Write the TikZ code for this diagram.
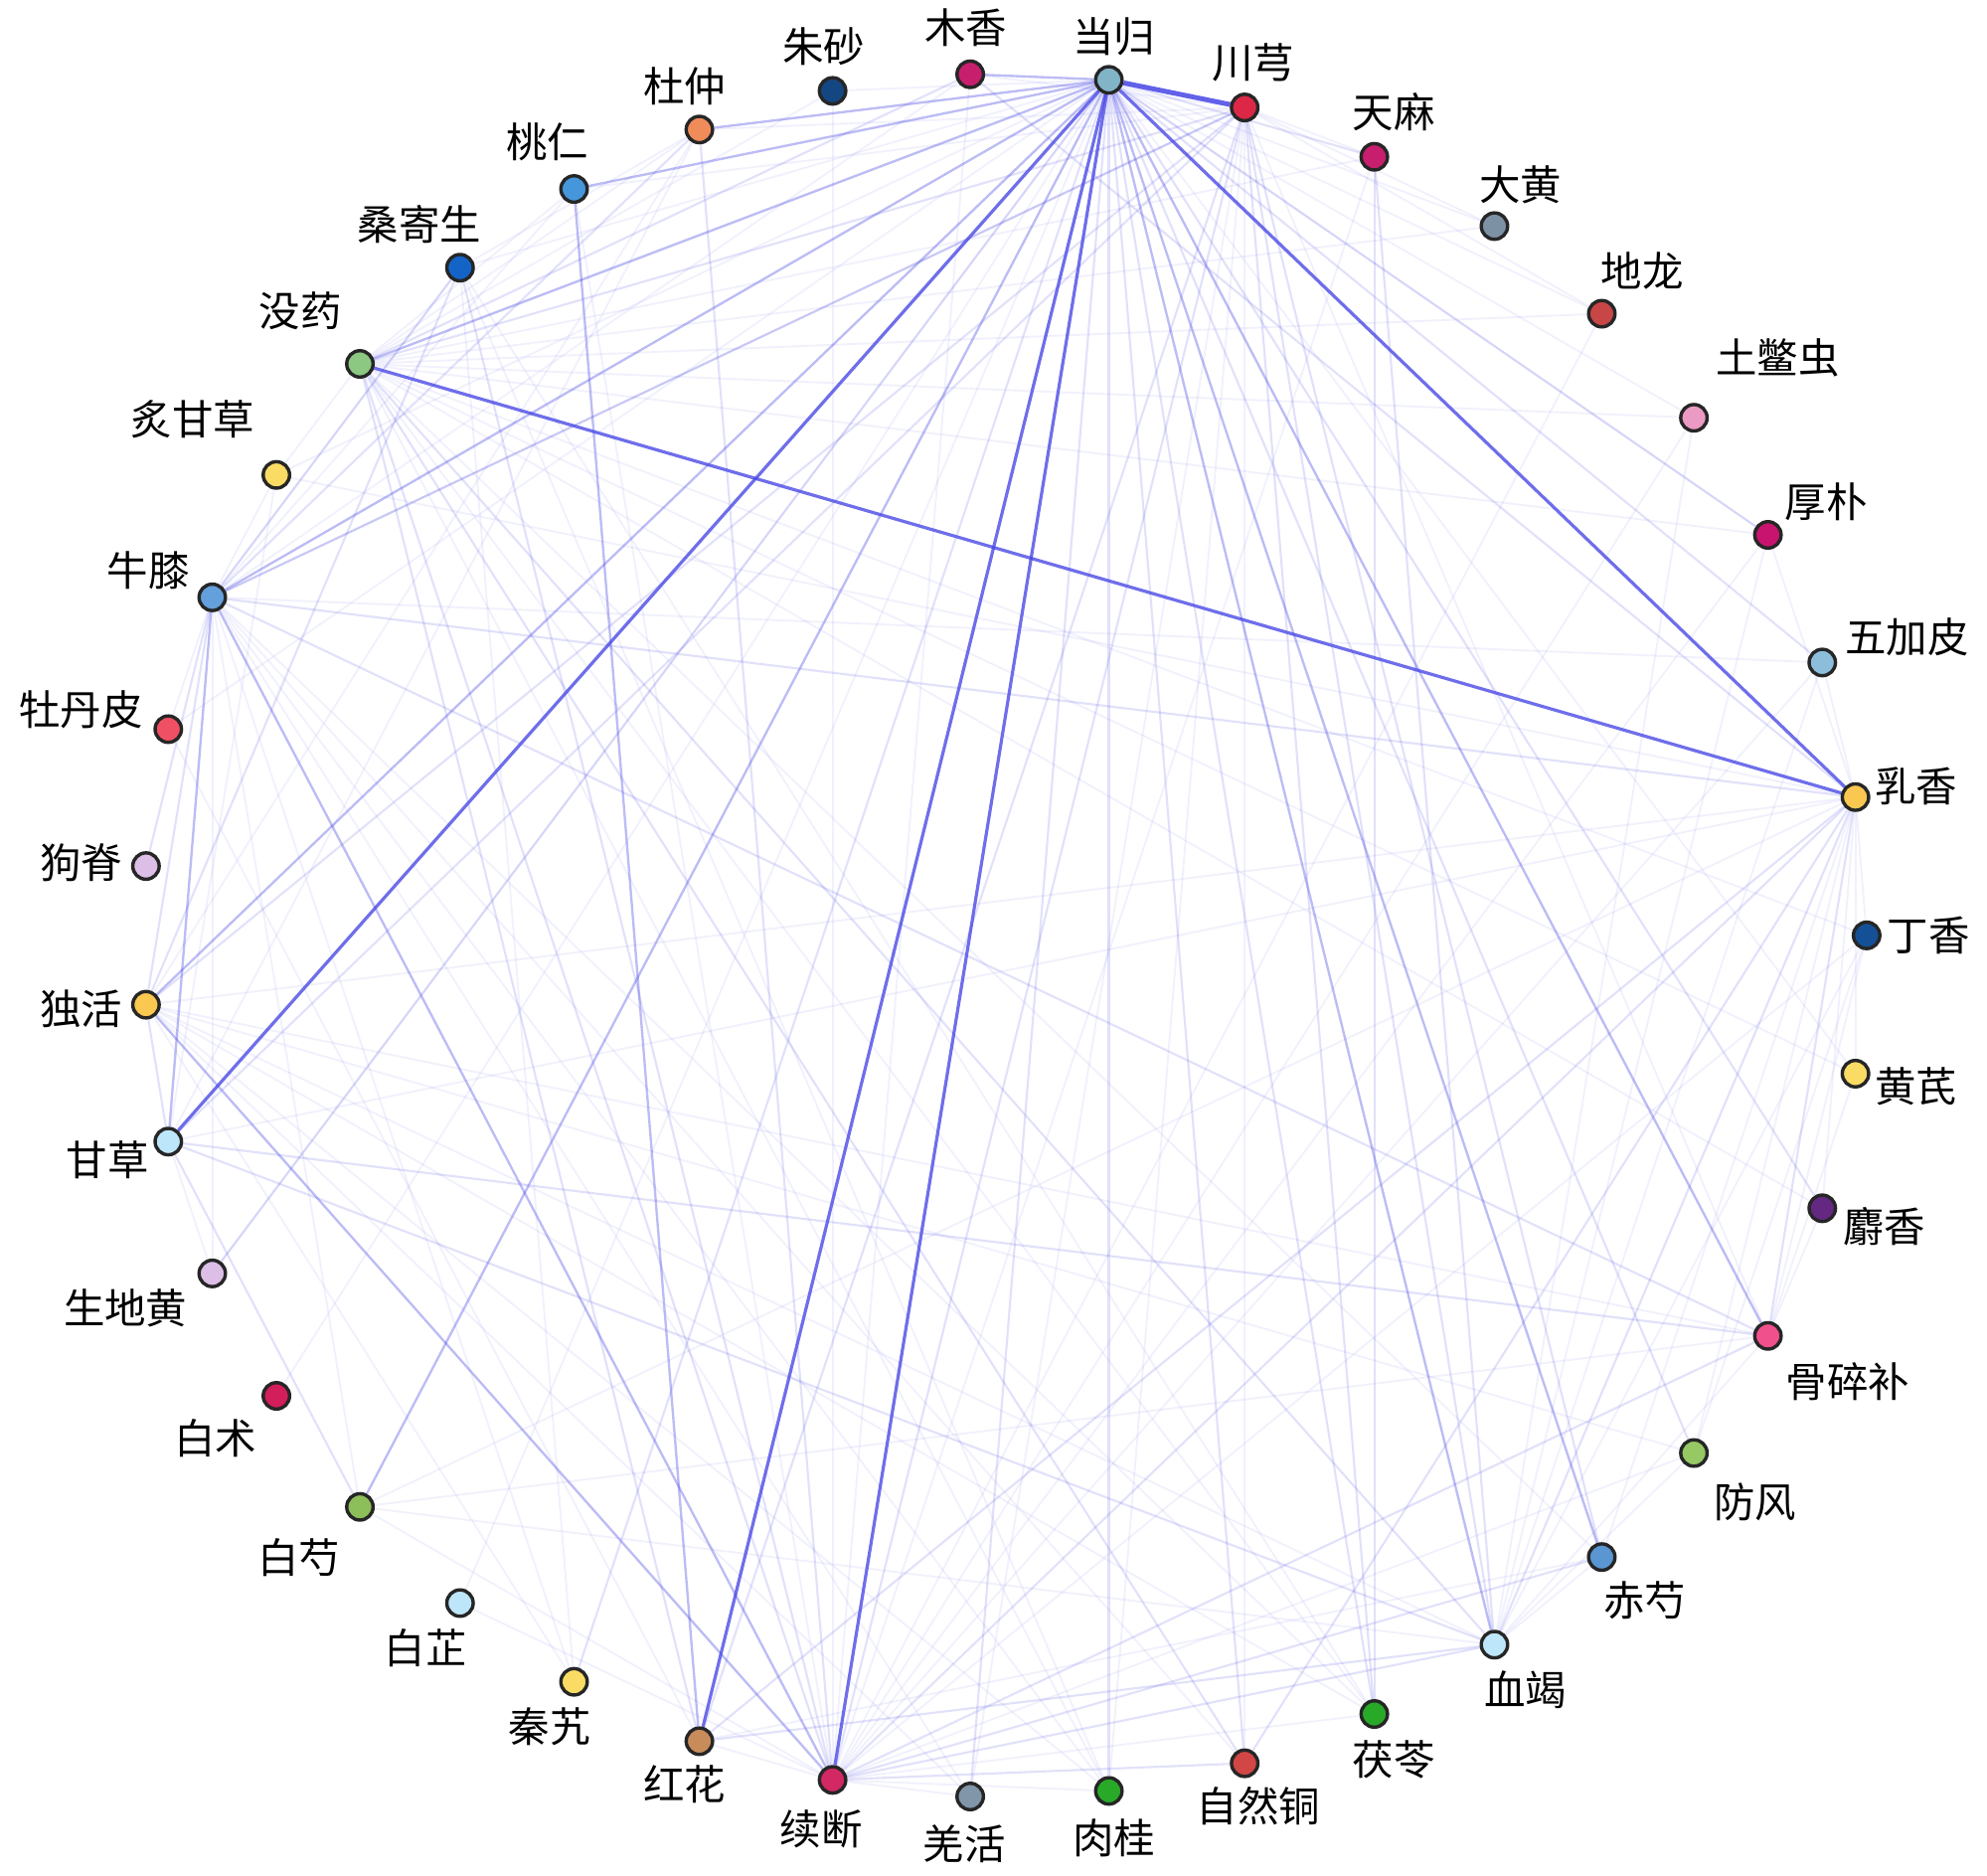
\documentclass[tikz,border=0pt]{standalone}
\usepackage{fontspec}
\newfontfamily\cjk{Noto Sans CJK SC}
\usetikzlibrary{backgrounds}
\definecolor{edgeblue}{RGB}{70,70,230}
\definecolor{c0}{RGB}{20,80,150}
\definecolor{c1}{RGB}{250,200,80}
\definecolor{c2}{RGB}{140,190,220}
\definecolor{c3}{RGB}{200,20,110}
\definecolor{c4}{RGB}{235,155,195}
\definecolor{c5}{RGB}{200,70,70}
\definecolor{c6}{RGB}{125,145,165}
\definecolor{c7}{RGB}{200,30,110}
\definecolor{c8}{RGB}{220,40,70}
\definecolor{c9}{RGB}{130,180,200}
\definecolor{c10}{RGB}{200,30,110}
\definecolor{c11}{RGB}{20,70,130}
\definecolor{c12}{RGB}{240,140,90}
\definecolor{c13}{RGB}{70,150,220}
\definecolor{c14}{RGB}{20,100,200}
\definecolor{c15}{RGB}{140,200,130}
\definecolor{c16}{RGB}{250,220,100}
\definecolor{c17}{RGB}{100,160,220}
\definecolor{c18}{RGB}{240,80,100}
\definecolor{c19}{RGB}{220,190,230}
\definecolor{c20}{RGB}{250,200,80}
\definecolor{c21}{RGB}{190,230,250}
\definecolor{c22}{RGB}{220,190,230}
\definecolor{c23}{RGB}{210,30,90}
\definecolor{c24}{RGB}{140,190,90}
\definecolor{c25}{RGB}{190,230,250}
\definecolor{c26}{RGB}{250,220,100}
\definecolor{c27}{RGB}{200,140,90}
\definecolor{c28}{RGB}{210,40,100}
\definecolor{c29}{RGB}{130,150,170}
\definecolor{c30}{RGB}{40,170,40}
\definecolor{c31}{RGB}{210,70,70}
\definecolor{c32}{RGB}{40,170,40}
\definecolor{c33}{RGB}{190,230,250}
\definecolor{c34}{RGB}{90,150,210}
\definecolor{c35}{RGB}{150,200,100}
\definecolor{c36}{RGB}{240,80,140}
\definecolor{c37}{RGB}{100,40,130}
\definecolor{c38}{RGB}{250,220,100}
\tikzset{
  hn/.style={circle, draw=black!85, line width=1.6pt, minimum size=12.5pt, inner sep=0pt},
  lab/.style={font=\cjk\fontsize{19.5}{19.5}\selectfont, inner sep=0pt, text=black},
  eA/.style={edgeblue, draw opacity=0.07, line width=0.9pt},
  eB/.style={edgeblue, draw opacity=0.16, line width=1pt},
  eC/.style={edgeblue, draw opacity=0.36, line width=1.1pt},
  eD/.style={edgeblue, draw opacity=0.78, line width=1.5pt},
  eE/.style={edgeblue, draw opacity=0.85, line width=2.3pt}
}
\begin{document}
\begin{tikzpicture}[x=0.6pt,y=-0.6pt]
\useasboundingbox (0,0) rectangle (1568,1480);
% nodes
\foreach \i/\x/\y in {0/1473/738, 1/1464.2/628.9, 2/1438/522.7, 3/1395.1/422, 4/1336.7/329.6,
  5/1264/247.5, 6/1179.3/178.4, 7/1084.5/123.7, 8/982.2/84.8, 9/875/63,
  10/765.6/58.6, 11/657/71.7, 12/551.9/102.2, 13/453/149.1, 14/363/211.2,
  15/284/287.1, 16/218.1/374.7, 17/167.5/471.3, 18/132.8/575.3, 19/115.2/683.3,
  20/115.2/792.7, 21/132.8/900.7, 22/167.5/1004.7, 23/218.1/1101.3, 24/284/1188.9,
  25/363/1264.8, 26/453/1326.9, 27/551.9/1373.8, 28/657/1404.3, 29/765.6/1417.4,
  30/875/1413, 31/982.2/1391.2, 32/1084.5/1352.3, 33/1179.3/1297.6, 34/1264/1228.5,
  35/1336.7/1146.4, 36/1395.1/1054, 37/1438/953.3, 38/1464.2/847.1}
  \node[hn, fill=c\i] (n\i) at (\x,\y) {};
% labels
\foreach \i/\x/\y/\t in {0/1522/738/丁香, 1/1512/620/乳香, 2/1505/503/五加皮, 3/1441/396/厚朴,
  4/1403/282/土鳖虫, 5/1296/214/地龙, 6/1200/146/大黄, 7/1100/88/天麻, 8/989/49/川芎,
  9/879/29/当归, 10/762/22/木香, 11/650/37/朱砂, 12/540/68/杜仲, 13/432/112/桃仁,
  14/331/177/桑寄生, 15/237/245/没药, 16/152/331/炙甘草, 17/117/450/牛膝, 18/64/560/牡丹皮,
  19/64/681/狗脊, 20/64/796/独活, 21/85/915/甘草, 22/99/1032/生地黄, 23/170/1135/白术,
  24/236/1229/白芍, 25/336/1300/白芷, 26/434/1362/秦艽, 27/540/1408/红花, 28/648/1443/续断,
  29/761/1455/羌活, 30/879/1450/肉桂, 31/993/1425/自然铜, 32/1100/1388/茯苓, 33/1204/1333/血竭,
  34/1298/1263/赤芍, 35/1385/1185/防风, 36/1458/1090/骨碎补, 37/1487/968/麝香, 38/1512/857/黄芪}
  \node[lab] (l\i) at (\x,\y) {\t};
\begin{pgfonlayer}{background}
\fill[white] (0,0) rectangle (1568,1480);
% faint edges
\foreach \a/\b in {6/9, 6/8, 5/8, 5/15, 4/15, 3/15, 2/17, 2/28, 0/15, 0/1, 38/1, 38/9, 37/1,
  37/15, 35/20, 35/0, 34/15, 34/27, 32/20, 32/14, 30/20, 30/14, 29/20, 29/17, 26/20, 26/14,
  25/9, 24/17, 22/17, 22/21, 18/9, 18/27, 16/9, 16/21, 16/1, 14/9, 14/12,
  11/9, 11/15, 7/8, 3/1, 2/1, 0/36, 38/36, 37/36, 36/33, 35/33, 35/28, 34/33, 32/28, 30/28,
  29/28, 4/9, 5/9, 3/9, 23/9, 22/9, 18/17, 16/17, 16/15, 14/17, 12/15, 13/15,
  10/17, 10/28, 11/28, 8/29, 8/30, 8/31, 8/36, 7/28, 7/15, 6/15, 5/28, 4/28, 3/28,
  0/28, 38/15, 1/21, 1/20, 1/24, 36/24, 36/20, 33/24, 33/20,
  31/17, 32/17, 30/17, 26/17, 24/28, 25/28, 27/28, 15/30, 15/32,
  13/28, 13/17, 12/20, 12/21, 8/12, 8/13, 8/10, 4/33, 2/33, 3/33, 1/34, 1/35, 0/33}
  \draw[eA] (n\a) -- (n\b);
% light edges
\foreach \a/\b in {9/26, 9/35, 9/29, 9/37, 9/2, 9/3, 9/7, 9/22, 8/33, 8/34, 8/32, 8/28,
  8/27, 8/17, 8/15, 8/21, 8/20, 15/33, 15/28, 15/27, 15/10, 15/31, 17/1, 17/36, 17/8,
  20/17, 20/14, 12/28, 12/17, 14/17, 21/33, 21/36, 1/33, 1/36, 1/28, 1/27, 1/31, 7/33,
  7/32, 36/28, 33/27, 33/28, 34/28, 31/28, 10/1, 19/17, 24/21, 14/28, 20/21,
  9/32, 9/31, 9/30}
  \draw[eB] (n\a) -- (n\b);
% medium edges
\foreach \a/\b in {9/36, 9/34, 9/33, 9/10, 17/28, 20/28, 9/24, 9/20, 9/17, 9/15, 9/13,
  9/12, 17/21, 13/27}
  \draw[eC] (n\a) -- (n\b);
% strong edges
\foreach \a/\b in {9/28, 9/27, 9/21, 15/1, 9/1}
  \draw[eD] (n\a) -- (n\b);
\draw[eE] (n9) -- (n8);
\end{pgfonlayer}
\end{tikzpicture}
\end{document}
